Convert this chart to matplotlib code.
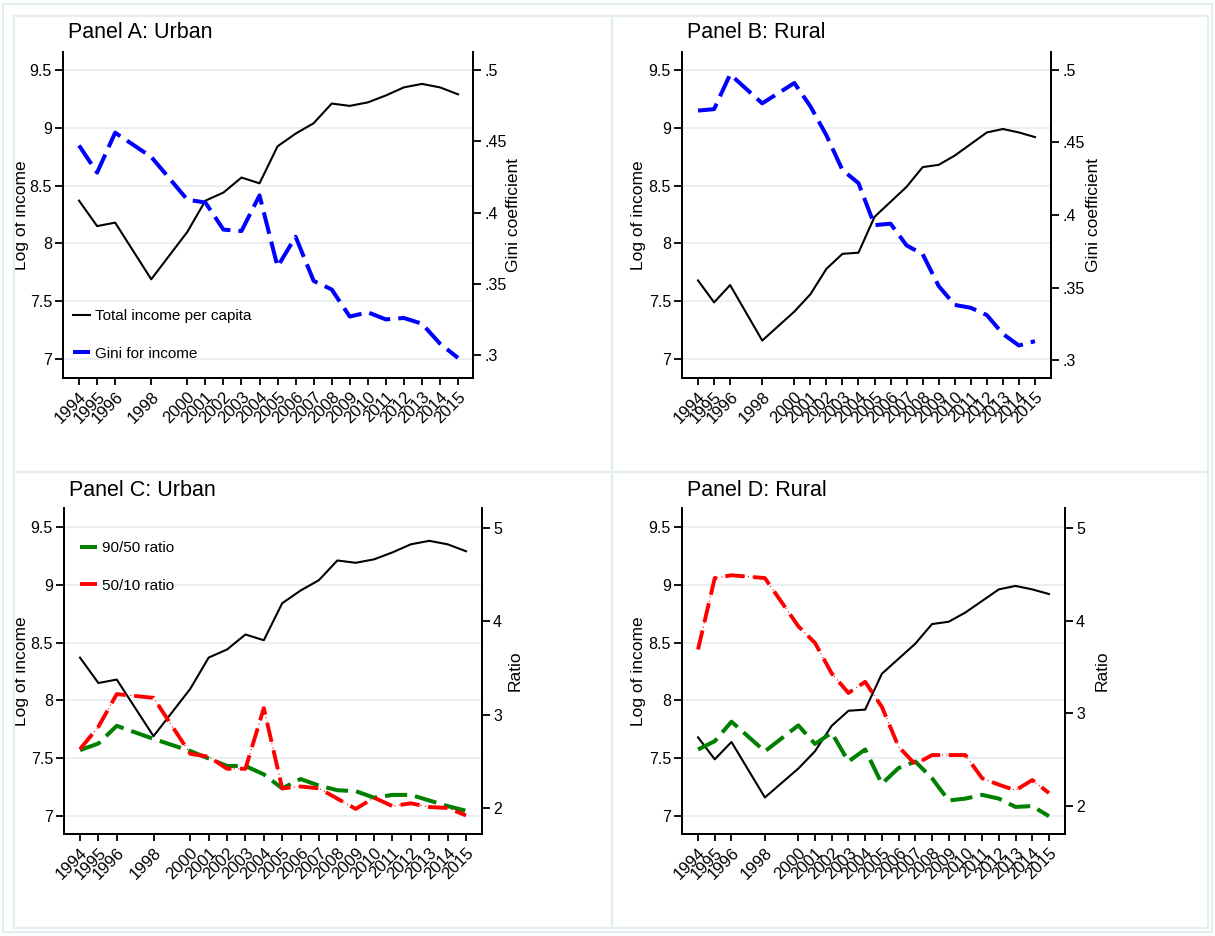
import matplotlib
matplotlib.use("Agg")
import matplotlib.pyplot as plt
from matplotlib.patches import Rectangle
import numpy as np

plt.rcParams['font.family'] = ['Liberation Sans', 'DejaVu Sans']

# data
years = [1994, 1995, 1996, 1998, 2000, 2001, 2002, 2003, 2004, 2005, 2006,
         2007, 2008, 2009, 2010, 2011, 2012, 2013, 2014, 2015]

urban_income = [8.37, 8.15, 8.18, 7.69, 8.10, 8.37, 8.44, 8.57, 8.52, 8.84, 8.95,
                9.04, 9.21, 9.19, 9.22, 9.28, 9.35, 9.38, 9.35, 9.29]
rural_income = [7.68, 7.49, 7.64, 7.16, 7.41, 7.56, 7.78, 7.91, 7.92, 8.23, 8.36,
                8.49, 8.66, 8.68, 8.76, 8.86, 8.96, 8.99, 8.96, 8.92]

urban_gini = [0.447, 0.428, 0.456, 0.439, 0.409, 0.407, 0.388, 0.387, 0.412, 0.362, 0.383,
              0.352, 0.346, 0.327, 0.330, 0.325, 0.326, 0.322, 0.308, 0.298]
rural_gini = [0.472, 0.473, 0.497, 0.477, 0.491, 0.475, 0.455, 0.431, 0.422, 0.393, 0.394,
              0.379, 0.373, 0.351, 0.338, 0.336, 0.331, 0.318, 0.310, 0.313]

urban_9050 = [2.62, 2.69, 2.88, 2.74, 2.61, 2.53, 2.45, 2.45, 2.36, 2.21, 2.31,
              2.24, 2.19, 2.18, 2.11, 2.14, 2.14, 2.08, 2.02, 1.97]
urban_5010 = [2.63, 2.87, 3.22, 3.18, 2.58, 2.55, 2.42, 2.42, 3.07, 2.21, 2.23,
              2.21, 2.10, 1.99, 2.11, 2.02, 2.05, 2.01, 2.00, 1.92]
rural_9050 = [2.61, 2.70, 2.91, 2.59, 2.87, 2.67, 2.79, 2.48, 2.61, 2.24, 2.41,
              2.48, 2.30, 2.06, 2.08, 2.12, 2.08, 1.99, 2.00, 1.89]
rural_5010 = [3.69, 4.46, 4.49, 4.46, 3.94, 3.76, 3.43, 3.22, 3.34, 3.07, 2.64,
              2.45, 2.55, 2.55, 2.55, 2.30, 2.23, 2.17, 2.28, 2.14]

income_ticks = [7, 7.5, 8, 8.5, 9, 9.5]
income_ticklabels = ['7', '7.5', '8', '8.5', '9', '9.5']
gini_ticks = [0.3, 0.35, 0.4, 0.45, 0.5]
gini_ticklabels = ['.3', '.35', '.4', '.45', '.5']
ratio_ticks = [2, 3, 4, 5]
ratio_ticklabels = ['2', '3', '4', '5']

W, H = 1215, 936
FRAME = '#e4edf1'
GRID = '#e6eff2'

fig = plt.figure(figsize=(W / 100, H / 100), dpi=100)
fig.patch.set_facecolor('white')


def px_axes(left, top, right, bottom):
    ax = fig.add_axes([left / W, 1 - bottom / H, (right - left) / W, (bottom - top) / H])
    ax.px_box = (left, right)
    return ax


def style_axes(ax, ax2, xlim, ylim, ylim2, ticks2, labels2, label2, lab_x, lab2_x):
    ax.set_xlim(*xlim)
    ax.set_ylim(*ylim)
    ax2.set_ylim(*ylim2)
    ax.set_xticks(years)
    ax.set_xticklabels([str(y) for y in years], rotation=45, ha='right', va='top',
                       rotation_mode='anchor', fontsize=12)
    ax.set_yticks(income_ticks)
    ax.set_yticklabels(income_ticklabels, fontsize=11.5)
    ax2.set_yticks(ticks2)
    ax2.set_yticklabels(labels2, fontsize=11.5)
    ax.set_ylabel('Log of income', fontsize=12.5, va='center')
    ax2.set_ylabel(label2, fontsize=12.5, va='center')
    # place axis titles where they sit in the reference (pixel x of text centre)
    left, right = ax.px_box
    ax.yaxis.set_label_coords((lab_x - left) / (right - left), 0.5)
    ax2.yaxis.set_label_coords((lab2_x - left) / (right - left), 0.5)
    ax.grid(axis='y', color=GRID, lw=1.3)
    ax.set_axisbelow(True)
    for a in (ax, ax2):
        a.spines['top'].set_visible(False)
        for s in ('left', 'right', 'bottom'):
            a.spines[s].set_linewidth(1.4)
        a.tick_params(width=1.3, length=6, pad=2)
    ax.tick_params(axis='x', length=5, pad=3)


def red_ratio(ax2, y):
    # thin dotted underlay + thick long dashes, like the Stata longdash_dot pattern
    ax2.plot(years, y, color='red', lw=0.8, ls=(0, (1, 3)))
    line, = ax2.plot(years, y, color='red', lw=2.8, dashes=(5, 2.2))
    return line


# panel A
axA = px_axes(63, 52, 473, 378)
axA2 = axA.twinx()
lA1, = axA.plot(years, urban_income, color='black', lw=1.5)
lA2, = axA2.plot(years, urban_gini, color='blue', lw=2.9, dashes=(5.5, 2))
style_axes(axA, axA2, (1993.11, 2015.83), (6.836, 9.656), (0.2839, 0.5126),
           gini_ticks, gini_ticklabels, 'Gini coefficient', 22, 513)
axA.legend([lA1, lA2], ['Total income per capita', 'Gini for income'], loc='center left',
           bbox_to_anchor=(0.024, 0.132), frameon=False, fontsize=11, borderpad=0,
           borderaxespad=0, handlelength=1.1, handletextpad=0.35, labelspacing=1.55)

# panel B
axB = px_axes(682, 52, 1051, 378)
axB2 = axB.twinx()
axB.plot(years, rural_income, color='black', lw=1.5)
axB2.plot(years, rural_gini, color='blue', lw=2.9, dashes=(5.5, 2))
style_axes(axB, axB2, (1993.0, 2016.0), (6.836, 9.656), (0.2876, 0.5124),
           gini_ticks, gini_ticklabels, 'Gini coefficient', 638, 1093)

# panel C
axC = px_axes(64, 508, 482, 834)
axC2 = axC.twinx()
axC.plot(years, urban_income, color='black', lw=1.5)
lC1, = axC2.plot(years, urban_9050, color='green', lw=2.9, dashes=(5.5, 2))
lC2 = red_ratio(axC2, urban_5010)
style_axes(axC, axC2, (1993.13, 2015.87), (6.844, 9.664), (1.721, 5.214),
           ratio_ticks, ratio_ticklabels, 'Ratio', 22, 515)
axC.legend([lC1, lC2], ['90/50 ratio', '50/10 ratio'], loc='center left',
           bbox_to_anchor=(0.038, 0.819), frameon=False, fontsize=11, borderpad=0,
           borderaxespad=0, handlelength=1.1, handletextpad=0.35, labelspacing=1.55)

# panel D
axD = px_axes(682, 508, 1065, 834)
axD2 = axD.twinx()
axD.plot(years, rural_income, color='black', lw=1.5)
axD2.plot(years, rural_9050, color='green', lw=2.9, dashes=(5.5, 2))
red_ratio(axD2, rural_5010)
style_axes(axD, axD2, (1993.04, 2015.96), (6.844, 9.664), (1.698, 5.216),
           ratio_ticks, ratio_ticklabels, 'Ratio', 639, 1102)

# panel titles
for x, y, t in [(68, 33, 'Panel A: Urban'), (687, 33, 'Panel B: Rural'),
                (69, 490, 'Panel C: Urban'), (687, 490, 'Panel D: Rural')]:
    fig.text(x / W, 1 - y / H, t, fontsize=15.5, ha='left', va='center')

# graph region frames
frames = [(3, 4, 1212, 932), (14, 16, 612, 472), (612, 16, 1208, 472),
          (14, 472, 612, 928), (612, 472, 1208, 928)]
for l, t, r, b in frames:
    fig.patches.append(Rectangle((l / W, 1 - b / H), (r - l) / W, (b - t) / H,
                                 transform=fig.transFigure, fill=False,
                                 edgecolor=FRAME, lw=1.5, zorder=0))

fig.savefig('out.png', dpi=100, facecolor='white')
